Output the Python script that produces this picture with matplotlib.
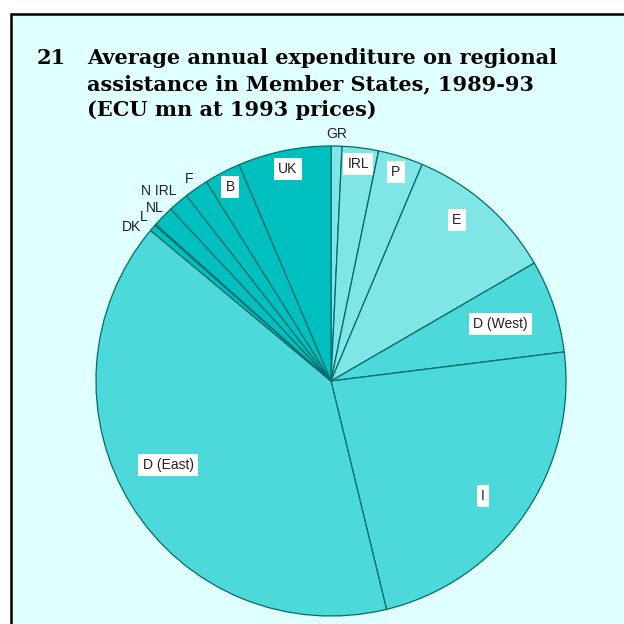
import numpy as np
import matplotlib
matplotlib.use('Agg')
import matplotlib.pyplot as plt
from matplotlib.patches import Rectangle

# share of total (%), clockwise from 12 o'clock
regions = ['GR', 'IRL', 'P', 'E', 'D (West)', 'I', 'D (East)',
           'DK', 'L', 'NL', 'N IRL', 'F', 'B', 'UK']
share_pct = [0.75, 2.5, 3.1, 10.3, 6.4, 23.2, 39.9,
             0.47, 0.08, 1.45, 1.4, 1.65, 2.5, 6.4]
group = ['light', 'light', 'light', 'light', 'mid', 'mid', 'mid',
         'dark', 'dark', 'dark', 'dark', 'dark', 'dark', 'dark']

title_no = '21'
title = ['Average annual expenditure on regional',
         'assistance in Member States, 1989-93',
         '(ECU mn at 1993 prices)']

colours = {'light': '#80e5e5', 'mid': '#4dd9d9', 'dark': '#00bfbf'}
bg = '#e0ffff'
edge = '#006d6d'

# label layout: (radius factor, clockwise angle shift in deg, boxed)
label_pos = {
    'GR': (1.05, 0, False), 'IRL': (0.93, 0, True), 'P': (0.93, 0, True),
    'E': (0.87, -3.4, True), 'D (West)': (0.76, 0, True), 'I': (0.81, 2.5, True),
    'D (East)': (0.78, 4.6, True), 'DK': (1.07, -3, False), 'L': (1.06, -0.5, False),
    'NL': (1.05, 0, False), 'N IRL': (1.09, -1.8, False), 'F': (1.05, 0, False),
    'B': (0.93, 0, True), 'UK': (0.92, 0, True),
}

W = 624
fig = plt.figure(figsize=(6.24, 6.24), dpi=100, facecolor='white')
ax = fig.add_axes([0, 0, 1, 1])

cx, cy, r = 331, W - 381, 235

frame = Rectangle((10.5, -20), 700, W - 14 + 20, facecolor=bg,
                  edgecolor='black', linewidth=1.8, zorder=0)
ax.add_patch(frame)

wedges, _ = ax.pie(share_pct, colors=[colours[g] for g in group],
                   startangle=90, counterclock=False, center=(cx, cy), radius=r,
                   wedgeprops=dict(edgecolor=edge, linewidth=0.9))

ax.set_xlim(0, W)
ax.set_ylim(0, W)
ax.set_aspect('equal')
ax.axis('off')

for w, name in zip(wedges, regions):
    f, shift, boxed = label_pos[name]
    ang = np.deg2rad((w.theta1 + w.theta2) / 2 - shift)
    x = cx + f * r * np.cos(ang)
    y = cy + f * r * np.sin(ang)
    kw = dict(ha='center', va='center', fontsize=10, color='#222222',
              family='Liberation Sans')
    if boxed:
        kw['bbox'] = dict(boxstyle='square,pad=0.3', facecolor='white',
                          edgecolor='none')
    ax.text(x, y, name, **kw)

ax.text(37, W - 64, title_no, fontsize=15, fontweight='bold',
        family='DejaVu Serif', va='baseline')
for i, line in enumerate(title):
    ax.text(87, W - 64 - 26 * i, line, fontsize=15, fontweight='bold',
            family='DejaVu Serif', va='baseline')

fig.savefig('out.png', dpi=100, facecolor='white')
